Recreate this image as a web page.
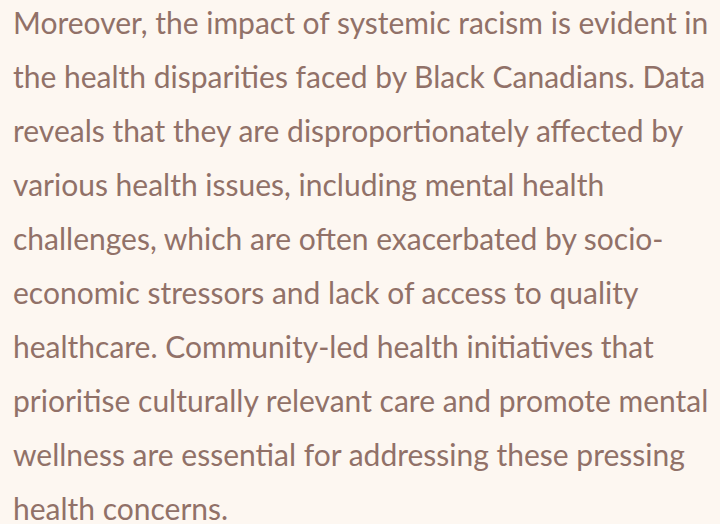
<!DOCTYPE html>
<html>
<head>
<meta charset="utf-8">
<script src="https://cdn.jsdelivr.net/npm/chart.js@4"></script>
<style>
  html, body {
    margin: 0;
    padding: 0;
    background: #fdf7f1;
    width: 720px;
    height: 524px;
    overflow: hidden;
  }
  #text {
    font-family: Lato, "Open Sans", sans-serif;
    font-size: 30px;
    line-height: 54px;
    color: #917168;
    margin: -5px 0 0 13px;
  }
  #text div { white-space: nowrap; }
</style>
</head>
<body>
<div id="text"></div>
<script>
'use strict';

// the reference has no chart, only this paragraph, line by line
let lines = [
  'Moreover, the impact of systemic racism is evident in',
  'the health disparities faced by Black Canadians. Data',
  'reveals that they are disproportionately affected by',
  'various health issues, including mental health',
  'challenges, which are often exacerbated by socio-',
  'economic stressors and lack of access to quality',
  'healthcare. Community-led health initiatives that',
  'prioritise culturally relevant care and promote mental',
  'wellness are essential for addressing these pressing',
  'health concerns.'
];

let box = document.getElementById('text');
for (let i = 0; i < lines.length; i++) {
  let d = document.createElement('div');
  d.textContent = lines[i];
  box.appendChild(d);
}
</script>
</body>
</html>
